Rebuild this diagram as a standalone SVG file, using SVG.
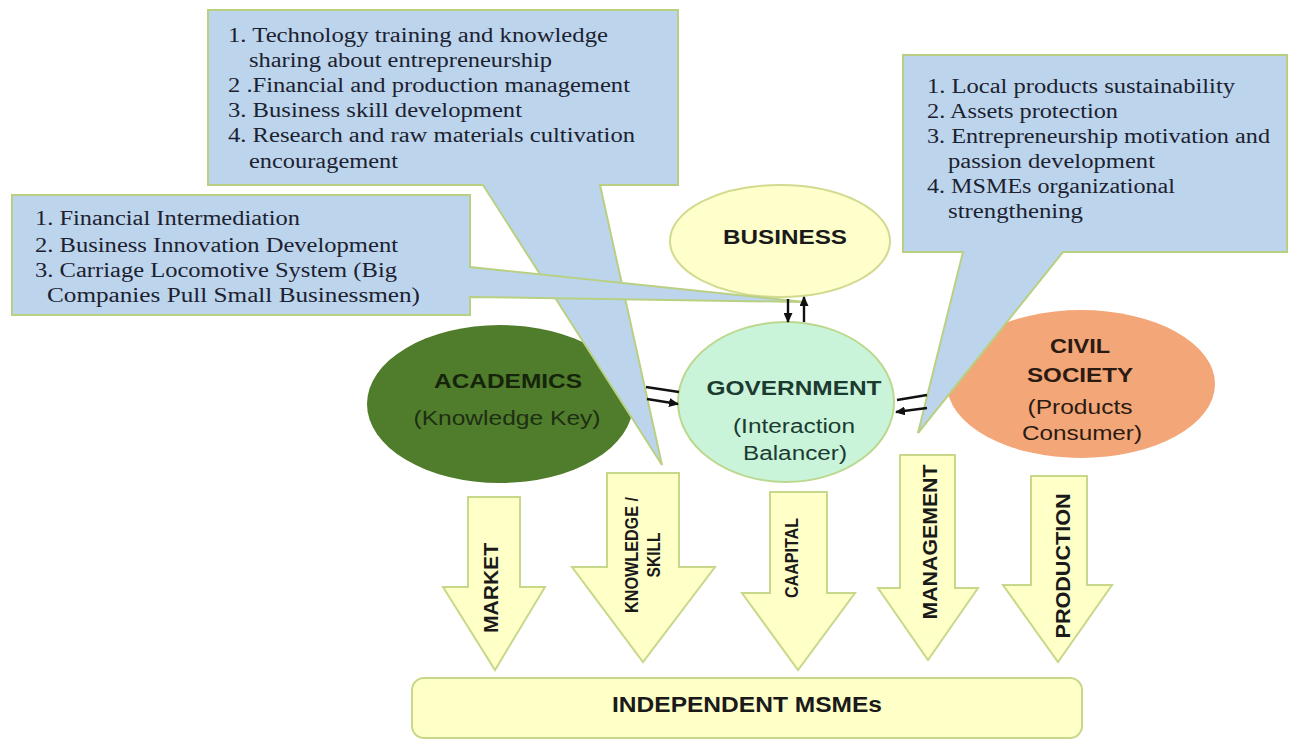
<svg xmlns="http://www.w3.org/2000/svg" width="1290" height="740" viewBox="0 0 1290 740">
<style>
.call{fill:#bcd5ec;stroke:#b9d083;stroke-width:2}
.ct{font-family:"Liberation Serif","Times New Roman",serif;font-size:20px;fill:#1c2130}
.dn{fill:#ffffc8;stroke:#c8d88a;stroke-width:2}
.at{font-family:"Liberation Sans",Arial,sans-serif;font-weight:bold;fill:#1a1a1a}
.nt{font-family:"Liberation Sans",Arial,sans-serif;font-size:20px;text-anchor:middle}
.b{font-weight:bold}
.con{stroke:#111;stroke-width:2.4;fill:none}
</style>
<defs>
<marker id="ah" markerUnits="userSpaceOnUse" markerWidth="10" markerHeight="9" refX="9" refY="4.5" orient="auto">
<path d="M0,0 L10,4.5 L0,9 z" fill="#111"/>
</marker>
</defs>
<rect width="1290" height="740" fill="#ffffff"/>

<g id="msmes">
<rect x="412" y="678" width="670" height="60" rx="12" fill="#ffffc8" stroke="#c8d88a" stroke-width="2"/>
<text class="at" x="747" y="712" font-size="22" text-anchor="middle" textLength="270" lengthAdjust="spacingAndGlyphs">INDEPENDENT MSMEs</text>
</g>

<g id="arrow-market">
<path class="dn" d="M468,497 H520 V587 H545 L495,670 L443,587 H468 Z"/>
<text class="at" transform="translate(498,588) rotate(-90)" font-size="21" text-anchor="middle" textLength="90" lengthAdjust="spacingAndGlyphs">MARKET</text>
</g>
<g id="arrow-knowledge">
<path class="dn" d="M607,473 H679 V567 H715 L643,662 L572,567 H607 Z"/>
<text class="at" transform="translate(638,555) rotate(-90)" font-size="19" text-anchor="middle" textLength="116" lengthAdjust="spacingAndGlyphs">KNOWLEDGE /</text>
<text class="at" transform="translate(660,555) rotate(-90)" font-size="19" text-anchor="middle" textLength="45" lengthAdjust="spacingAndGlyphs">SKILL</text>
</g>
<g id="arrow-capital">
<path class="dn" d="M770,492 H827 V593 H855 L798,670 L742,593 H770 Z"/>
<text class="at" transform="translate(798,558) rotate(-90)" font-size="19" text-anchor="middle" textLength="80" lengthAdjust="spacingAndGlyphs">CAAPITAL</text>
</g>
<g id="arrow-management">
<path class="dn" d="M900,455 H955 V588 H978 L928,660 L878,588 H900 Z"/>
<text class="at" transform="translate(937,542) rotate(-90)" font-size="21" text-anchor="middle" textLength="155" lengthAdjust="spacingAndGlyphs">MANAGEMENT</text>
</g>
<g id="arrow-production">
<path class="dn" d="M1031,476 H1087 V585 H1112 L1058,662 L1003,585 H1031 Z"/>
<text class="at" transform="translate(1070,566) rotate(-90)" font-size="21" text-anchor="middle" textLength="145" lengthAdjust="spacingAndGlyphs">PRODUCTION</text>
</g>

<g id="business">
<ellipse cx="780" cy="241" rx="110" ry="56" fill="#ffffcc" stroke="#d2da8e" stroke-width="2"/>
<text class="nt b" x="785" y="244" fill="#1a1a1a" textLength="124" lengthAdjust="spacingAndGlyphs">BUSINESS</text>
</g>
<g id="government">
<ellipse cx="786" cy="402" rx="108" ry="80" fill="#c9f4da" stroke="#bcd88e" stroke-width="2"/>
<text class="nt b" x="794" y="395" font-size="21" fill="#1b3a30" textLength="175" lengthAdjust="spacingAndGlyphs">GOVERNMENT</text>
<text class="nt" x="794" y="433" font-size="21" fill="#1b3a30" textLength="122" lengthAdjust="spacingAndGlyphs">(Interaction</text>
<text class="nt" x="795" y="460" font-size="21" fill="#1b3a30" textLength="104" lengthAdjust="spacingAndGlyphs">Balancer)</text>
</g>
<g id="academics">
<ellipse cx="500" cy="404" rx="133" ry="79" fill="#4f7d2b"/>
<text class="nt b" x="508" y="388" fill="#16240c" textLength="148" lengthAdjust="spacingAndGlyphs">ACADEMICS</text>
<text class="nt" x="507" y="425" font-size="21" fill="#1e2e14" textLength="187" lengthAdjust="spacingAndGlyphs">(Knowledge Key)</text>
</g>
<g id="civil-society">
<ellipse cx="1081" cy="384" rx="134" ry="74" fill="#f3a677"/>
<text class="nt b" x="1080" y="353" fill="#2a1a12" textLength="60" lengthAdjust="spacingAndGlyphs">CIVIL</text>
<text class="nt b" x="1080" y="382" fill="#2a1a12" textLength="106" lengthAdjust="spacingAndGlyphs">SOCIETY</text>
<text class="nt" x="1080" y="414" fill="#2a1a12" textLength="105" lengthAdjust="spacingAndGlyphs">(Products</text>
<text class="nt" x="1082" y="440" fill="#2a1a12" textLength="120" lengthAdjust="spacingAndGlyphs">Consumer)</text>
</g>

<g id="callout-government">
<path class="call" d="M208,10 H678 V185 H600 L662,465 L483,185 H208 Z"/>
<text class="ct" x="228" y="42" textLength="380" lengthAdjust="spacingAndGlyphs">1. Technology training and knowledge</text>
<text class="ct" x="249" y="67" textLength="303" lengthAdjust="spacingAndGlyphs">sharing about entrepreneurship</text>
<text class="ct" x="228" y="92" textLength="402" lengthAdjust="spacingAndGlyphs">2 .Financial and production management</text>
<text class="ct" x="228" y="117" textLength="294" lengthAdjust="spacingAndGlyphs">3. Business skill development</text>
<text class="ct" x="228" y="142" textLength="407" lengthAdjust="spacingAndGlyphs">4. Research and raw materials cultivation</text>
<text class="ct" x="249" y="168" textLength="149" lengthAdjust="spacingAndGlyphs">encouragement</text>
</g>
<g id="callout-business">
<path class="call" d="M12,195 H470 V267 L805,302 L470,297 V315 H12 Z"/>
<text class="ct" x="35" y="225" textLength="265" lengthAdjust="spacingAndGlyphs">1. Financial Intermediation</text>
<text class="ct" x="35" y="252" textLength="363" lengthAdjust="spacingAndGlyphs">2. Business Innovation Development</text>
<text class="ct" x="35" y="277" textLength="362" lengthAdjust="spacingAndGlyphs">3. Carriage Locomotive System (Big</text>
<text class="ct" x="47" y="302" textLength="373" lengthAdjust="spacingAndGlyphs">Companies Pull Small Businessmen)</text>
</g>
<g id="callout-civil">
<path class="call" d="M903,55 H1287 V252 H1063 L918,433 L963,252 H903 Z"/>
<text class="ct" x="927" y="93" textLength="308" lengthAdjust="spacingAndGlyphs">1. Local products sustainability</text>
<text class="ct" x="927" y="118" textLength="191" lengthAdjust="spacingAndGlyphs">2. Assets protection</text>
<text class="ct" x="927" y="143" textLength="343" lengthAdjust="spacingAndGlyphs">3. Entrepreneurship motivation and</text>
<text class="ct" x="948" y="168" textLength="207" lengthAdjust="spacingAndGlyphs">passion development</text>
<text class="ct" x="927" y="193" textLength="248" lengthAdjust="spacingAndGlyphs">4. MSMEs organizational</text>
<text class="ct" x="948" y="218" textLength="135" lengthAdjust="spacingAndGlyphs">strengthening</text>
</g>

<g id="connectors">
<line class="con" x1="788" y1="299" x2="788" y2="322" marker-end="url(#ah)"/>
<line class="con" x1="804" y1="322" x2="804" y2="297" marker-end="url(#ah)"/>
<line class="con" x1="646" y1="387" x2="679" y2="392"/>
<line class="con" x1="647" y1="399" x2="678" y2="404" marker-end="url(#ah)"/>
<line class="con" x1="897" y1="400" x2="927" y2="395"/>
<line class="con" x1="927" y1="408" x2="896" y2="412" marker-end="url(#ah)"/>
</g>
</svg>
